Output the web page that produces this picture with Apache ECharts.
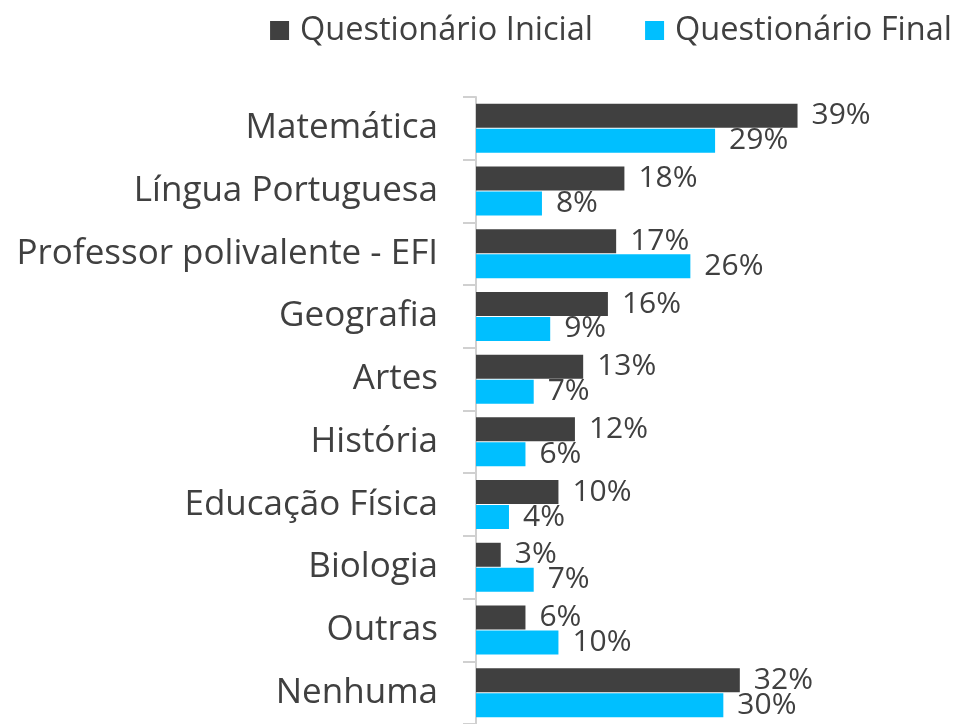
<!DOCTYPE html>
<html>
<head>
    <meta charset="utf-8">
    <title>Disciplinas</title>
    <script src="https://cdn.jsdelivr.net/npm/echarts@6/dist/echarts.min.js"></script>
    <style>
        body { margin: 0; background: #fff; }
    </style>
</head>
<body>
<div id="chart" style="width: 961px; height: 724px;"></div>
<script>
    var categories = ['Matemática', 'Língua Portuguesa', 'Professor polivalente - EFI', 'Geografia', 'Artes',
        'História', 'Educação Física', 'Biologia', 'Outras', 'Nenhuma'];
    var inicial = [39, 18, 17, 16, 13, 12, 10, 3, 6, 32];
    var final = [29, 8, 26, 9, 7, 6, 4, 7, 10, 30];

    var textColor = '#404040';
    var font = 'Open Sans';

    var chart = echarts.init(document.getElementById('chart'));

    function label() {
        return {
            show: true,
            position: 'right',
            distance: 14,
            formatter: '{c}%',
            color: textColor,
            fontFamily: font,
            fontSize: 30
        };
    }

    chart.setOption({
        animation: false,
        legend: {
            top: 9,
            right: 4,
            itemWidth: 19,
            itemHeight: 19,
            itemGap: 52,
            icon: 'rect',
            textStyle: { color: textColor, fontFamily: font, fontSize: 32.5, padding: [0, 0, 0, 6] }
        },
        grid: { left: 476, top: 97, width: 371, bottom: -6, containLabel: false },
        xAxis: { type: 'value', min: 0, max: 45, show: false },
        yAxis: {
            type: 'category',
            data: categories,
            inverse: true,
            axisLine: { lineStyle: { color: '#d0d0d0', width: 2 } },
            axisTick: { show: true, length: 13, lineStyle: { color: '#d0d0d0', width: 2 } },
            axisLabel: { color: textColor, fontFamily: font, fontSize: 35, margin: 38 }
        },
        series: [
            {
                name: 'Questionário Inicial', type: 'bar', data: inicial,
                barWidth: 24, barGap: '4%',
                itemStyle: { color: '#404040' },
                label: label()
            },
            {
                name: 'Questionário Final', type: 'bar', data: final,
                barWidth: 24,
                itemStyle: { color: '#00bfff' },
                label: label()
            }
        ]
    });
</script>
</body>
</html>
